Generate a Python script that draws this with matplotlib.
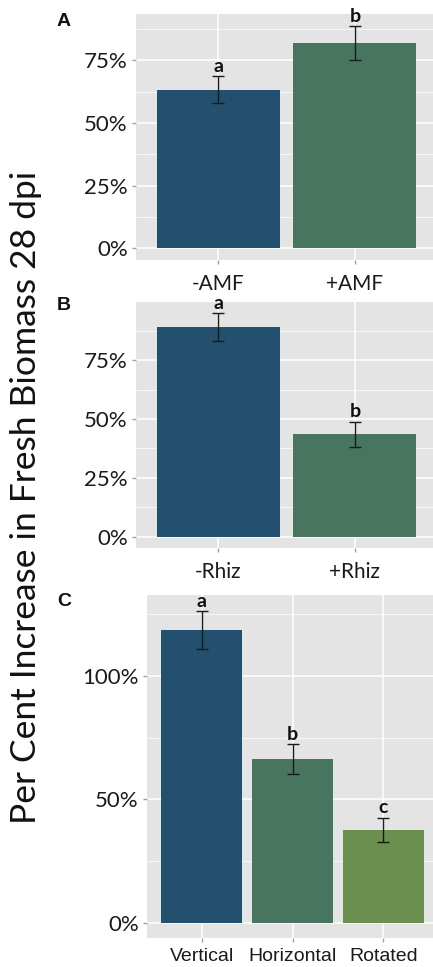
import matplotlib.pyplot as plt
from matplotlib.ticker import FixedLocator, PercentFormatter

# panel A
amf_labels = ["-AMF", "+AMF"]
amf_values = [63.2, 82.0]
amf_err = [5.4, 6.8]
amf_letters = ["a", "b"]

# panel B
rhiz_labels = ["-Rhiz", "+Rhiz"]
rhiz_values = [89.0, 43.6]
rhiz_err = [5.8, 5.3]
rhiz_letters = ["a", "b"]

# panel C
orient_labels = ["Vertical", "Horizontal", "Rotated"]
orient_values = [118.6, 66.4, 37.6]
orient_err = [7.6, 6.1, 5.0]
orient_letters = ["a", "b", "c"]

colors = ["#22506e", "#487560", "#6a8f4e"]
bg = "#e4e4e4"

W, H = 433, 967
fig = plt.figure(figsize=(W / 100, H / 100), dpi=100)


def px_axes(left, right, top, bottom):
    return fig.add_axes([left / W, 1 - bottom / H, (right - left) / W, (bottom - top) / H])


def panel(ax, labels, values, err, letters, ylim, major, minor, xfont, xfamily):
    x = list(range(1, len(labels) + 1))
    ax.set_facecolor(bg)
    ax.bar(x, values, width=0.9, color=colors[:len(labels)], zorder=3)
    ax.errorbar(x, values, yerr=err, fmt="none", ecolor="#1a1a1a", elinewidth=1,
                capsize=4.5, capthick=1, zorder=4)
    for xi, v, e, lt in zip(x, values, err, letters):
        ax.annotate(lt, (xi, v + e), xytext=(0, 1), textcoords="offset points",
                    ha="center", va="bottom", fontsize=14, fontweight="bold",
                    family="Lato", color="#111111", zorder=5)
    ax.set_xlim(0.4, len(labels) + 0.6)
    ax.set_ylim(*ylim)
    ax.yaxis.set_major_locator(FixedLocator(major))
    ax.yaxis.set_minor_locator(FixedLocator(minor))
    ax.yaxis.set_major_formatter(PercentFormatter(decimals=0))
    ax.set_xticks(x)
    ax.set_xticklabels(labels, fontsize=xfont, family=xfamily, color="#1a1a1a")
    for lab in ax.get_yticklabels():
        lab.set_family("Lato")
        lab.set_fontsize(16)
        lab.set_color("#1a1a1a")
    ax.grid(True, which="major", color="white", linewidth=1.1, zorder=0)
    ax.grid(True, which="minor", axis="y", color="white", linewidth=0.5, zorder=0)
    ax.tick_params(axis="both", which="major", color="#a0a0a0", length=3, width=1)
    ax.tick_params(axis="y", which="minor", length=0)
    ax.tick_params(axis="y", pad=3)
    ax.tick_params(axis="x", pad=7)
    for s in ax.spines.values():
        s.set_visible(False)
    ax.set_axisbelow(True)


axA = px_axes(136, 437, 14, 260)
panel(axA, amf_labels, amf_values, amf_err, amf_letters, (-4.8, 93.6),
      [0, 25, 50, 75], [12.5, 37.5, 62.5, 87.5], 15, "Lato")

axB = px_axes(136, 437, 302, 548)
panel(axB, rhiz_labels, rhiz_values, rhiz_err, rhiz_letters, (-4.7, 99.6),
      [0, 25, 50, 75], [12.5, 37.5, 62.5, 87.5], 15, "Lato")

axC = px_axes(147, 438, 595, 938)
panel(axC, orient_labels, orient_values, orient_err, orient_letters, (-6.1, 132.8),
      [0, 50, 100], [25, 75, 125], 14, "Liberation Sans")
axC.tick_params(axis="x", pad=4)

for lt, yy in [("A", 22), ("B", 306), ("C", 602)]:
    fig.text(64 / W, 1 - yy / H, lt, ha="center", va="center", fontsize=14,
             fontweight="bold", family="Liberation Sans", color="#111111")

fig.text(26 / W, 1 - 497 / H, "Per Cent Increase in Fresh Biomass 28 dpi",
         rotation=90, ha="center", va="center", fontsize=25.5, family="Lato",
         color="#111111")

fig.savefig("out.png", dpi=100, facecolor="white")
